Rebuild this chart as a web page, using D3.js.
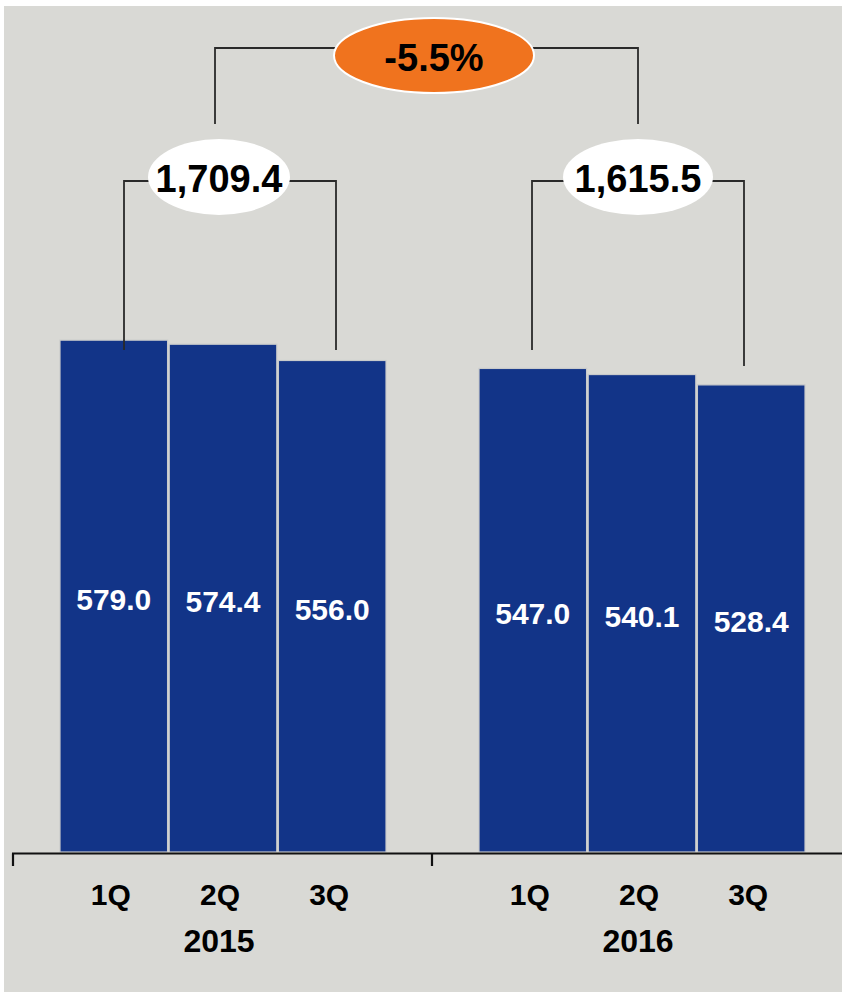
<!DOCTYPE html>
<html>
<head>
<meta charset="utf-8">
<script src="https://cdn.jsdelivr.net/npm/d3@7"></script>
<style>
  html, body { margin: 0; padding: 0; background: #ffffff; }
  svg { display: block; }
  text { font-family: "Liberation Sans", Arial, sans-serif; font-weight: bold; }
</style>
</head>
<body>
<svg id="chart" width="842" height="992"></svg>
<script>
// Quarterly figures for two years
const years = ["2015", "2016"];
const quarters = ["1Q", "2Q", "3Q"];
const values2015 = [579.0, 574.4, 556.0];
const values2016 = [547.0, 540.1, 528.4];
const seriesByYear = { "2015": values2015, "2016": values2016 };

const W = 842, H = 992;
const svg = d3.select("#chart");

// panel background
svg.append("rect")
  .attr("x", 4).attr("y", 6)
  .attr("width", W - 4).attr("height", H - 6)
  .attr("fill", "#d9d9d5");

const baseY = 852;
const y = d3.scaleLinear().domain([0, 650]).range([baseY, baseY - 650 * 0.884]);

// outer band per year, inner band per quarter
const x0 = d3.scaleBand().domain(years).range([13, 851]).paddingInner(0).paddingOuter(0);
const x1 = d3.scaleBand().domain(quarters).range([47, 373]).paddingInner(0.015).paddingOuter(0);

const fmt1 = d3.format(",.1f");

const groups = svg.selectAll("g.year")
  .data(years)
  .join("g")
  .attr("class", "year")
  .attr("transform", d => `translate(${x0(d)},0)`);

groups.selectAll("rect.bar")
  .data(yr => seriesByYear[yr].map((v, i) => ({ q: quarters[i], v })))
  .join("rect")
  .attr("class", "bar")
  .attr("x", d => x1(d.q))
  .attr("y", d => y(d.v))
  .attr("width", x1.bandwidth())
  .attr("height", d => baseY - y(d.v))
  .attr("fill", "#123488")
  .attr("stroke", "#c8cacb")
  .attr("stroke-width", 1.2);

// value labels centred in each bar
groups.selectAll("text.val")
  .data(yr => seriesByYear[yr].map((v, i) => ({ q: quarters[i], v })))
  .join("text")
  .attr("class", "val")
  .attr("x", d => x1(d.q) + x1.bandwidth() / 2)
  .attr("y", d => (y(d.v) + baseY) / 2 + 14)
  .attr("text-anchor", "middle")
  .attr("fill", "#ffffff")
  .attr("font-size", 30)
  .text(d => d.v.toFixed(1));

// category axis
const axisY = 853.5;
svg.append("line")
  .attr("x1", 12).attr("x2", W)
  .attr("y1", axisY).attr("y2", axisY)
  .attr("stroke", "#111").attr("stroke-width", 2.2);
svg.selectAll("line.ytick")
  .data(years)
  .join("line")
  .attr("class", "ytick")
  .attr("x1", d => x0(d)).attr("x2", d => x0(d))
  .attr("y1", axisY).attr("y2", 866)
  .attr("stroke", "#111").attr("stroke-width", 2.2);

groups.selectAll("text.q")
  .data(quarters)
  .join("text")
  .attr("class", "q")
  .attr("x", d => x1(d) + x1.bandwidth() / 2 - 3)
  .attr("y", 905)
  .attr("text-anchor", "middle")
  .attr("fill", "#000")
  .attr("font-size", 30)
  .text(d => d);

groups.append("text")
  .attr("x", x1("2Q") + x1.bandwidth() / 2 - 4)
  .attr("y", 952)
  .attr("text-anchor", "middle")
  .attr("fill", "#000")
  .attr("font-size", 32)
  .text(d => d);

// yearly totals with brackets
const totals = years.map(yr => d3.sum(seriesByYear[yr]));
const change = totals[1] / totals[0] - 1;

const lineColor = "#2a2a2a";
const bracketTop = 181;
const totalBoxes = [
  { yr: "2015", cx: 219, rx: 71, left: 124, right: 336, footL: 350, footR: 350 },
  { yr: "2016", cx: 638, rx: 75, left: 532, right: 744, footL: 350, footR: 366 }
];

totalBoxes.forEach((b, i) => {
  const g = svg.append("g");
  g.append("path")
    .attr("d", `M${b.left},${b.footL}V${bracketTop}H${b.right}V${b.footR}`)
    .attr("fill", "none").attr("stroke", lineColor).attr("stroke-width", 1.8);
  g.append("ellipse")
    .attr("cx", b.cx).attr("cy", 177)
    .attr("rx", b.rx).attr("ry", 38)
    .attr("fill", "#ffffff");
  g.append("text")
    .attr("x", b.cx).attr("y", 192)
    .attr("text-anchor", "middle")
    .attr("fill", "#000")
    .attr("font-size", 38)
    .text(fmt1(totals[i]));
});

// year-over-year change
svg.append("path")
  .attr("d", "M215,124V48H638V124")
  .attr("fill", "none").attr("stroke", lineColor).attr("stroke-width", 1.8);
svg.append("ellipse")
  .attr("cx", 434).attr("cy", 55.5)
  .attr("rx", 100).attr("ry", 37.5)
  .attr("fill", "#f0731e")
  .attr("stroke", "#ffffff").attr("stroke-width", 2);
svg.append("text")
  .attr("x", 434).attr("y", 70.5)
  .attr("text-anchor", "middle")
  .attr("fill", "#000")
  .attr("font-size", 38)
  .text((change * 100).toFixed(1) + "%");
</script>
</body>
</html>
